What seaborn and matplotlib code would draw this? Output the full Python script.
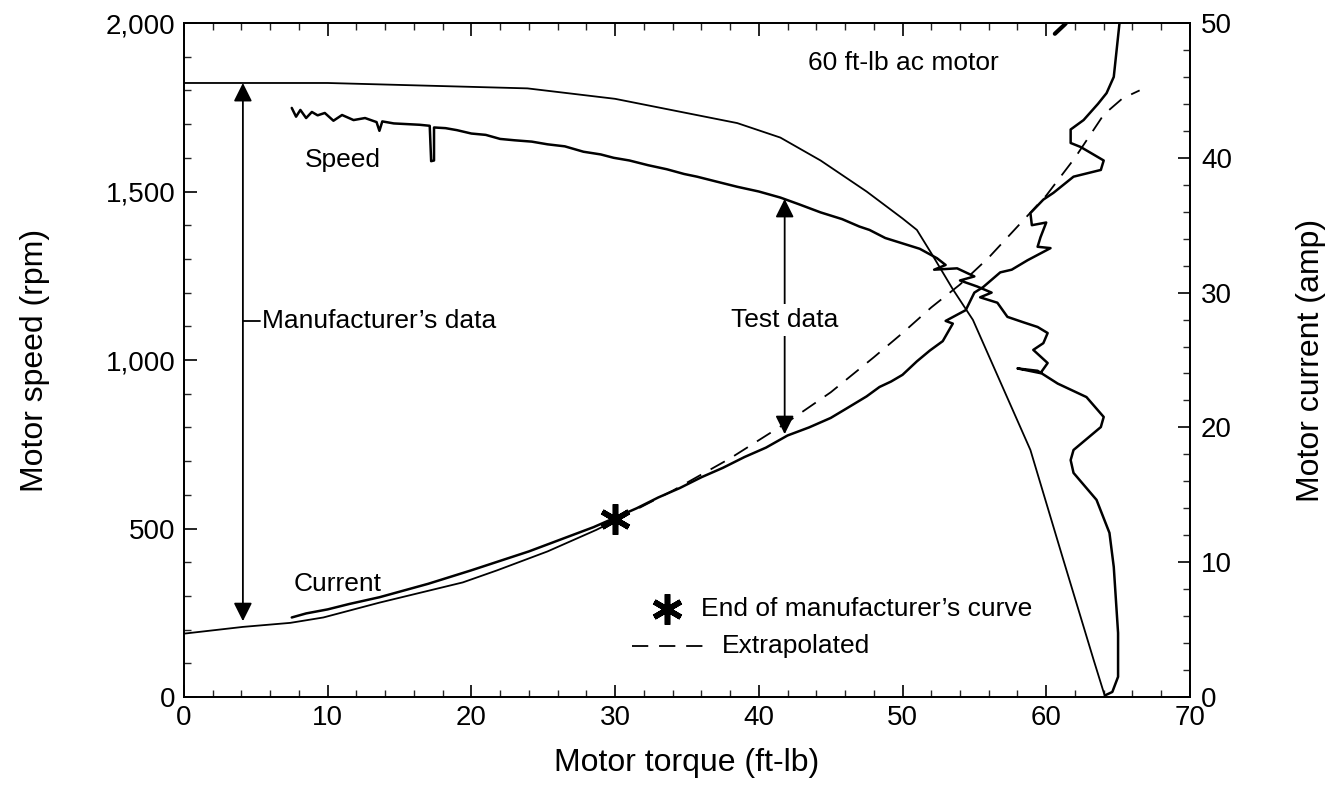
import matplotlib
matplotlib.use("Agg")
import matplotlib.pyplot as plt
from matplotlib.ticker import MultipleLocator, FuncFormatter
import seaborn as sns

# ---------- Data ----------
# manufacturer's speed curve: torque (ft-lb), speed (rpm)
mfr_speed_x = [0, 10, 23.9, 30, 38.5, 41.5, 44.3, 47.5, 50.0, 51.0, 52.1, 53.5, 54.9, 56.9, 58.9, 61.1, 63.3, 64.1]
mfr_speed_y = [1822, 1822, 1806, 1775, 1703, 1660, 1592, 1500, 1420, 1386, 1310, 1210, 1119, 926, 733, 420, 110, 0]

# manufacturer's current curve: torque (ft-lb), current (amp)
mfr_curr_x = [0, 4.1, 7.4, 9.7, 13.6, 19.4, 21.8, 25.3, 28.7, 30.0]
mfr_curr_y = [4.7, 5.2, 5.5, 5.9, 7.0, 8.5, 9.4, 10.8, 12.4, 13.1]

# extrapolated current (dashed)
extrap_x = [30, 34, 38, 42, 45, 48, 50, 52, 54, 56, 58, 60, 62, 64, 65.3, 66.5]
extrap_y = [13.1, 15.3, 17.7, 20.4, 22.6, 25.2, 27.0, 28.9, 30.6, 32.6, 34.9, 37.2, 40.0, 43.2, 44.4, 45.0]

# test speed trace (in time order)
test_speed_x = [7.5, 7.8, 8.1, 8.5, 8.9, 9.3, 9.8, 10.4, 11.0, 11.8, 12.6, 13.4, 13.6, 13.8, 14.6, 15.5,
                16.4, 17.1, 17.2, 17.4, 17.4, 18.2, 19.0, 20.0, 21.0, 22.0, 23.0, 24.2, 25.3, 26.5,
                27.8, 29.0, 29.9, 31.0, 32.3, 33.6, 34.8, 35.7, 37.0, 38.5, 40.0, 41.5, 42.8, 44.3,
                45.8, 47.0, 47.7, 48.8, 50.0, 51.2, 52.4, 53.0, 52.2, 53.8, 55.0, 54.0, 55.2, 56.2,
                55.4, 56.6, 57.3, 58.4, 59.4, 60.1, 59.8, 59.1, 60.1, 59.6, 58.0, 59.4, 60.8, 62.8,
                64.0, 63.8, 61.9, 61.7, 61.9, 63.5, 64.4, 64.7, 65.0, 65.0, 64.6, 64.1]
test_speed_y = [1748, 1722, 1742, 1718, 1736, 1726, 1733, 1710, 1727, 1712, 1718, 1706, 1680, 1708, 1702, 1700,
                1698, 1695, 1590, 1592, 1690, 1688, 1682, 1672, 1668, 1656, 1652, 1648, 1640, 1634,
                1618, 1610, 1600, 1592, 1578, 1566, 1552, 1544, 1530, 1514, 1500, 1482, 1462, 1438,
                1418, 1396, 1386, 1362, 1346, 1330, 1302, 1282, 1268, 1272, 1248, 1236, 1218, 1200,
                1186, 1170, 1128, 1112, 1098, 1080, 1050, 1030, 991, 961, 975, 968, 930, 890,
                831, 801, 733, 703, 665, 585, 487, 386, 190, 60, 15, 5]

# test current trace (in time order)
test_curr_x = [7.5, 8.5, 10.0, 11.5, 13.6, 15.3, 17.0, 18.5, 20.0, 22.0, 24.0, 25.5, 27.0, 28.5, 30.0,
               31.5, 33.0, 34.5, 36.0, 37.5, 39.0, 40.5, 42.0, 43.5, 45.0, 46.1, 47.5, 48.4, 49.2, 50.0,
               51.0, 51.9, 52.8, 53.5, 53.0, 54.4, 55.0, 55.6, 56.8, 57.6, 58.7, 60.3, 59.4, 59.6,
               60.0, 59.0, 58.9, 59.8, 60.5, 61.9, 63.8, 64.0, 62.4, 61.7, 61.7, 62.6, 63.6, 64.2,
               64.7, 64.9, 65.1, 65.3]
test_curr_y = [5.9, 6.2, 6.5, 6.9, 7.4, 7.9, 8.4, 8.9, 9.4, 10.1, 10.8, 11.4, 12.0, 12.6, 13.3,
               14.0, 14.8, 15.5, 16.3, 17.0, 17.8, 18.5, 19.4, 20.0, 20.7, 21.4, 22.3, 23.0, 23.4, 23.9,
               24.9, 25.7, 26.4, 27.7, 27.9, 28.7, 30.0, 30.4, 31.5, 31.7, 32.4, 33.3, 33.4, 34.1,
               35.2, 35.0, 35.9, 36.9, 37.4, 38.6, 39.1, 39.8, 40.8, 41.1, 42.1, 42.8, 44.0, 44.8,
               46.0, 48.0, 50.0, 51.0]

# short fragment of the current trace touching the top edge
top_frag_x = [60.6, 61.0, 61.3, 61.6]
top_frag_y = [49.2, 49.6, 49.9, 50.3]

# markers / annotations
star_x, star_amp = 30.0, 13.2
legend_star_x, legend_star_rpm = 33.6, 262
legend_dash_x = [31.2, 36.6]
legend_dash_rpm = 152
mfr_arrow_x, mfr_arrow_top, mfr_arrow_bot = 4.1, 1822, 225
test_arrow_x, test_arrow_top, test_arrow_bot = 41.8, 1478, 780

# ---------- Figure ----------
sns.set_theme(style="ticks")
plt.rcParams["font.family"] = ["Liberation Sans", "DejaVu Sans"]
plt.rcParams["text.color"] = "black"
plt.rcParams["axes.labelcolor"] = "black"

fig = plt.figure(figsize=(13.37, 7.85), dpi=100)
ax = fig.add_axes([0.1376, 0.1121, 0.7524, 0.8586])
ax2 = ax.twinx()

lw = 1.3
sns.lineplot(x=mfr_speed_x, y=mfr_speed_y, ax=ax, color="black", lw=lw, sort=False, estimator=None)
sns.lineplot(x=test_speed_x, y=test_speed_y, ax=ax, color="black", lw=1.8, sort=False, estimator=None)

sns.lineplot(x=mfr_curr_x, y=mfr_curr_y, ax=ax2, color="black", lw=lw, sort=False, estimator=None)
sns.lineplot(x=extrap_x, y=extrap_y, ax=ax2, color="black", lw=lw, sort=False, estimator=None,
             linestyle=(0, (9, 6)))
sns.lineplot(x=test_curr_x, y=test_curr_y, ax=ax2, color="black", lw=1.8, sort=False, estimator=None)
sns.lineplot(x=top_frag_x, y=top_frag_y, ax=ax2, color="black", lw=3, sort=False, estimator=None)
ax2.plot([star_x], [star_amp], marker=(6, 2, 0), ms=22, mew=4, color="black", ls="none")

# legend-like annotations inside the plot
fs = 19
ax.plot([legend_star_x], [legend_star_rpm], marker=(6, 2, 0), ms=22, mew=4, color="black", ls="none")
ax.text(legend_star_x + 2.4, legend_star_rpm, "End of manufacturer\u2019s curve", fontsize=fs,
        va="center", ha="left")
ax.plot(legend_dash_x, [legend_dash_rpm] * 2, color="black", lw=lw, ls=(0, (9, 6)))
ax.text(legend_dash_x[1] + 0.8, legend_dash_rpm, "Extrapolated", fontsize=fs, va="center", ha="left")

# arrows
arrow_kw = dict(arrowstyle="<|-|>", color="black", lw=1.3, mutation_scale=28, shrinkA=0, shrinkB=0)
ax.annotate("", xy=(mfr_arrow_x, mfr_arrow_top), xytext=(mfr_arrow_x, mfr_arrow_bot), arrowprops=arrow_kw)
ax.annotate("", xy=(test_arrow_x, test_arrow_top), xytext=(test_arrow_x, test_arrow_bot), arrowprops=arrow_kw)
ax.plot([mfr_arrow_x, 5.3], [1116, 1116], color="black", lw=1.3)
ax.text(5.4, 1116, "Manufacturer\u2019s data", fontsize=fs, va="center", ha="left")
ax.text(test_arrow_x, 1119, "Test data", fontsize=fs, va="center", ha="center",
        bbox=dict(facecolor="white", edgecolor="none", pad=3))

ax.text(8.4, 1593, "Speed", fontsize=fs, va="center", ha="left")
ax.text(7.6, 335, "Current", fontsize=fs, va="center", ha="left")
ax.text(43.4, 1881, "60 ft-lb ac motor", fontsize=fs, va="center", ha="left")

# ---------- Axes ----------
ax.set_xlim(0, 70)
ax.set_ylim(0, 2000)
ax2.set_ylim(0, 50)
ax.xaxis.set_major_locator(MultipleLocator(10))
ax.xaxis.set_minor_locator(MultipleLocator(2))
ax.yaxis.set_major_locator(MultipleLocator(500))
ax.yaxis.set_minor_locator(MultipleLocator(100))
ax2.yaxis.set_major_locator(MultipleLocator(10))
ax2.yaxis.set_minor_locator(MultipleLocator(2))
ax.yaxis.set_major_formatter(FuncFormatter(lambda v, p: f"{int(v):,}"))

for a in (ax, ax2):
    for s in a.spines.values():
        s.set_visible(True)
        s.set_linewidth(1.3)
        s.set_color("black")
ax.tick_params(axis="both", which="major", direction="in", length=9, width=1.2, labelsize=20,
               colors="black", top=True, pad=6)
ax.tick_params(axis="both", which="minor", direction="in", length=5, width=1.0, top=True)
ax.tick_params(axis="y", right=False)
ax2.tick_params(axis="y", which="major", direction="in", length=9, width=1.2, labelsize=20,
                colors="black", pad=8)
ax2.tick_params(axis="y", which="minor", direction="in", length=5, width=1.0)

ax.set_xlabel("Motor torque (ft-lb)", fontsize=23, labelpad=12)
ax.set_ylabel("Motor speed (rpm)", fontsize=23, labelpad=40)
ax2.set_ylabel("Motor current (amp)", fontsize=23, labelpad=46)

fig.savefig("out.png", dpi=100, facecolor="white")
